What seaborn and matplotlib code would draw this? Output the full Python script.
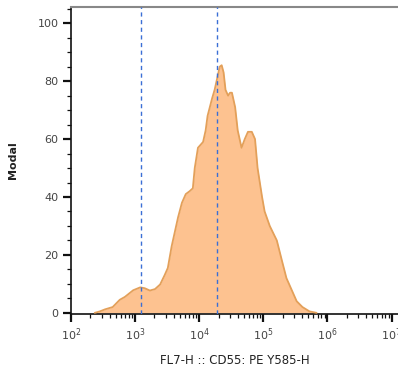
import numpy as np
import pandas as pd
import matplotlib
matplotlib.use("Agg")
import matplotlib.pyplot as plt
import matplotlib.ticker as mticker
import seaborn as sns

# log10 fluorescence (bin centres) and modal (% of max) values
log_fluor = [2.37, 2.45, 2.53, 2.65, 2.76, 2.84, 2.97, 3.08, 3.15, 3.23, 3.31, 3.39,
             3.46, 3.51, 3.57, 3.62, 3.67, 3.73, 3.79, 3.85, 3.90, 3.93, 3.98, 4.06,
             4.10, 4.13, 4.20, 4.24, 4.27, 4.32, 4.35, 4.38, 4.41, 4.45, 4.48, 4.51,
             4.56, 4.60, 4.66, 4.71, 4.76, 4.82, 4.87, 4.91, 4.98, 5.02, 5.10, 5.21,
             5.29, 5.36, 5.46, 5.52, 5.61, 5.72, 5.83]
modal = [0, 0.5, 1.2, 2, 4.5, 5.5, 7.8, 8.8, 8.5, 7.7, 8.2, 9.8,
         13, 15.5, 23, 28, 33, 38, 41, 42, 43, 50, 57, 59,
         63, 68, 74, 77, 80, 85, 85.5, 83, 77, 75, 76, 76,
         71, 63, 57, 60, 62.5, 62.5, 60, 50, 40, 35, 30, 25,
         18, 12, 7, 4, 2, 0.5, 0]
gates = [1230, 18700]
xtick_exps = [2, 3, 4, 5, 6, 7]
yticks = [0, 20, 40, 60, 80, 100]

df = pd.DataFrame({"fluor": [10 ** v for v in log_fluor], "modal": modal})

sns.set_style("white")
fig = plt.figure(figsize=(3.98, 3.70), dpi=100)
ax = fig.add_axes([71 / 398, 1 - 314 / 370, 1 - 71 / 398, (314 - 7) / 370])

ax.set_xscale("log")
ax.fill_between(df["fluor"], df["modal"], 0, color="#FDC290", linewidth=0, zorder=2)
sns.lineplot(data=df, x="fluor", y="modal", ax=ax, color="#E3A05A", linewidth=1.3,
             zorder=3, sort=False)

for g in gates:
    ax.axvline(g, color="#3B6FD6", linestyle=(0, (3, 2.5)), linewidth=1.0, zorder=4)

ax.set_xlim(10 ** 2, 10 ** 7.1)
ax.set_ylim(-0.4, 105.6)

ax.set_xticks([10 ** e for e in xtick_exps])
ax.set_xticklabels([r"$10^{%d}$" % e for e in xtick_exps])
ax.xaxis.set_minor_locator(mticker.LogLocator(base=10, subs=np.arange(2, 10), numticks=20))
ax.xaxis.set_minor_formatter(mticker.NullFormatter())
ax.set_yticks(yticks)
ax.yaxis.set_minor_locator(mticker.MultipleLocator(5))

ax.tick_params(axis="both", which="major", direction="out", length=6, width=1.6,
               color="#111111", labelsize=8, labelcolor="#444444", pad=3)
ax.tick_params(axis="both", which="minor", direction="out", length=3, width=0.9,
               color="#111111")
ax.tick_params(axis="y", left=True, which="both")
ax.tick_params(axis="x", bottom=True, which="both")

for s in ["left", "bottom"]:
    ax.spines[s].set_color("#111111")
    ax.spines[s].set_linewidth(1.2)
ax.spines["top"].set_color("#888888")
ax.spines["top"].set_linewidth(1.5)
ax.spines["right"].set_visible(False)

ax.set_xlabel("FL7-H :: CD55: PE Y585-H", fontsize=8.5, color="#222222", labelpad=8)
ax.set_ylabel("Modal", fontsize=8, color="#222222", fontweight="bold", labelpad=14)

fig.savefig("out.png", dpi=100)
